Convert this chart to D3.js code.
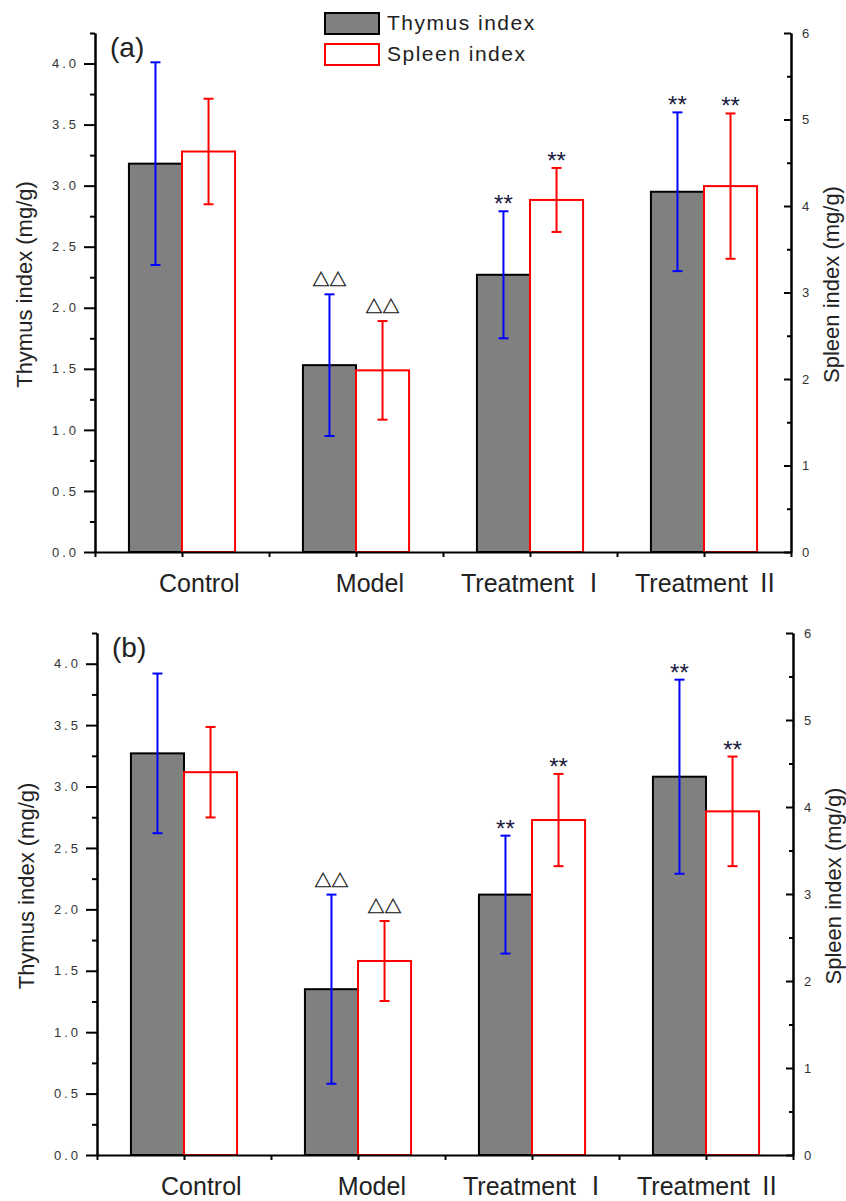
<!DOCTYPE html>
<html>
<head>
<meta charset="utf-8">
<script src="https://cdn.jsdelivr.net/npm/d3@7/dist/d3.min.js"></script>
<style>
  body { margin: 0; background: #fff; }
  svg text { font-family: "Liberation Sans", Arial, "Noto Sans CJK SC", sans-serif; }
</style>
</head>
<body>
<svg id="chart" width="846" height="1201"></svg>
<script>
// labels were typed with leading (non-breaking) spaces in the original figure
const categories = ["\u00a0\u00a0\u00a0\u00a0\u00a0Control", "\u00a0\u00a0\u00a0\u00a0Model",
  "\u00a0Treatment Ⅰ", "\u00a0Treatment Ⅱ"];
const seriesNames = ["Thymus index", "Spleen index"];

// panel (a)
const thymusA = [3.18, 1.53, 2.27, 2.95];
const thymusErrA = [0.83, 0.58, 0.52, 0.65];
const spleenA = [4.63, 2.10, 4.07, 4.23];
const spleenErrA = [0.61, 0.57, 0.37, 0.84];

// panel (b)
const thymusB = [3.27, 1.35, 2.12, 3.08];
const thymusErrB = [0.65, 0.77, 0.48, 0.79];
const spleenB = [4.40, 2.23, 3.85, 3.95];
const spleenErrB = [0.52, 0.46, 0.53, 0.63];

// significance marks over the error bars
const thymusMarks = ["", "△△", "**", "**"];
const spleenMarks = ["", "△△", "**", "**"];

const leftTicks = [0.0, 0.5, 1.0, 1.5, 2.0, 2.5, 3.0, 3.5, 4.0];
const leftMinor = [0.25, 0.75, 1.25, 1.75, 2.25, 2.75, 3.25, 3.75, 4.25];
const rightTicks = [0, 1, 2, 3, 4, 5, 6];
const rightMinor = [0.5, 1.5, 2.5, 3.5, 4.5, 5.5];

const svg = d3.select("#chart");

function styleAxis(sel) {
  sel.select(".domain").attr("stroke", "#000").attr("stroke-width", 2);
  sel.selectAll(".tick line").attr("stroke", "#000").attr("stroke-width", 2);
  sel.selectAll(".tick text")
    .attr("fill", "#333")
    .attr("font-size", 13)
    .attr("letter-spacing", "3px");
}

function drawPanel(p) {
  const g = svg.append("g").attr("class", "panel-" + p.tag);

  const x = d3.scaleBand().domain(categories).range([p.left, p.right])
    .paddingInner(0.39).paddingOuter(0.195);
  const xSub = d3.scaleBand().domain(["thymus", "spleen"]).range([0, x.bandwidth()]);
  const xLin = d3.scaleLinear().domain([0, 8]).range([p.left, p.right]);
  const yL = d3.scaleLinear().domain([0, 4.25]).range([p.bottom, p.top]);
  const yR = d3.scaleLinear().domain([0, 6]).range([p.bottom, p.top]);

  const rows = categories.map((c, i) => ({
    cat: c,
    thymus: p.thymus[i], thymusErr: p.thymusErr[i],
    spleen: p.spleen[i], spleenErr: p.spleenErr[i],
    thymusMark: thymusMarks[i], spleenMark: spleenMarks[i],
  }));

  // bars
  g.selectAll(".thymus-bar")
    .data(rows)
    .join("rect")
    .attr("class", "thymus-bar")
    .attr("x", (d) => x(d.cat) + xSub("thymus"))
    .attr("y", (d) => yL(d.thymus))
    .attr("width", xSub.bandwidth())
    .attr("height", (d) => yL(0) - yL(d.thymus))
    .attr("fill", "#808080")
    .attr("stroke", "#000")
    .attr("stroke-width", 2);

  g.selectAll(".spleen-bar")
    .data(rows)
    .join("rect")
    .attr("class", "spleen-bar")
    .attr("x", (d) => x(d.cat) + xSub("spleen"))
    .attr("y", (d) => yR(d.spleen))
    .attr("width", xSub.bandwidth())
    .attr("height", (d) => yR(0) - yR(d.spleen))
    .attr("fill", "#fff")
    .attr("stroke", "#ff0000")
    .attr("stroke-width", 2);

  // error bars
  const cap = 5;
  const errSpecs = [
    { key: "thymus", y: yL, color: "#0000ff" },
    { key: "spleen", y: yR, color: "#ff0000" },
  ];
  errSpecs.forEach((s) => {
    const cx = (d) => x(d.cat) + xSub(s.key) + xSub.bandwidth() / 2;
    const hi = (d) => s.y(d[s.key] + d[s.key + "Err"]);
    const lo = (d) => s.y(d[s.key] - d[s.key + "Err"]);
    const eg = g.selectAll(".err-" + s.key)
      .data(rows)
      .join("g")
      .attr("class", "err-" + s.key)
      .attr("stroke", s.color)
      .attr("stroke-width", 2);
    eg.append("line").attr("x1", cx).attr("x2", cx).attr("y1", hi).attr("y2", lo);
    eg.append("line").attr("x1", (d) => cx(d) - cap).attr("x2", (d) => cx(d) + cap)
      .attr("y1", hi).attr("y2", hi);
    eg.append("line").attr("x1", (d) => cx(d) - cap).attr("x2", (d) => cx(d) + cap)
      .attr("y1", lo).attr("y2", lo);

    // marks
    const isStar = (d) => d[s.key + "Mark"] === "**";
    g.selectAll(".mark-" + s.key)
      .data(rows.filter((d) => d[s.key + "Mark"] !== ""))
      .join("text")
      .attr("class", "mark-" + s.key)
      .attr("x", cx)
      .attr("y", (d) => (isStar(d) ? hi(d) + 1 : hi(d) - 8))
      .attr("text-anchor", "middle")
      .attr("font-family", "DejaVu Sans")
      .attr("font-size", (d) => (isStar(d) ? 24 : 17))
      .attr("fill", (d) => (isStar(d) ? "#1a1a40" : "#111"))
      .attr("stroke", (d) => (isStar(d) ? "none" : "#111"))
      .attr("stroke-width", 0.4)
      .text((d) => d[s.key + "Mark"]);
  });

  // x axis
  const xAxis = g.append("g")
    .attr("transform", `translate(0,${p.bottom})`)
    .call(d3.axisBottom(xLin).tickValues(d3.range(9)).tickSize(5)
      .tickSizeOuter(0).tickFormat(""));
  styleAxis(xAxis);

  g.selectAll(".cat-label")
    .data(categories)
    .join("text")
    .attr("class", "cat-label")
    .attr("x", (d) => x(d) + x.bandwidth() / 2)
    .attr("y", p.bottom + 40)
    .attr("text-anchor", "middle")
    .attr("font-size", 25)
    .attr("fill", "#222")
    .text((d) => d);

  // left axis
  const yAxisMinor = g.append("g")
    .attr("transform", `translate(${p.left},0)`)
    .call(d3.axisLeft(yL).tickValues(leftMinor).tickSize(5).tickSizeOuter(0).tickFormat(""));
  styleAxis(yAxisMinor);
  const yAxis = g.append("g")
    .attr("transform", `translate(${p.left},0)`)
    .call(d3.axisLeft(yL).tickValues(leftTicks).tickSize(11).tickSizeOuter(0)
      .tickPadding(5).tickFormat(d3.format(".1f")));
  styleAxis(yAxis);

  // right axis
  const rAxisMinor = g.append("g")
    .attr("transform", `translate(${p.right},0)`)
    .call(d3.axisRight(yR).tickValues(rightMinor).tickSize(-4).tickSizeOuter(0).tickFormat(""));
  styleAxis(rAxisMinor);
  const rAxis = g.append("g")
    .attr("transform", `translate(${p.right},0)`)
    .call(d3.axisRight(yR).tickValues(rightTicks).tickSize(-7).tickSizeOuter(0)
      .tickPadding(11).tickFormat(d3.format("d")));
  styleAxis(rAxis);

  const midY = (p.top + p.bottom) / 2 - 8;
  g.append("text")
    .attr("transform", `translate(${p.left - 63},${midY}) rotate(-90)`)
    .attr("text-anchor", "middle")
    .attr("font-size", 22)
    .attr("fill", "#222")
    .text("Thymus index (mg/g)");
  g.append("text")
    .attr("transform", `translate(${p.right + 48},${midY}) rotate(-90)`)
    .attr("text-anchor", "middle")
    .attr("font-size", 22)
    .attr("fill", "#222")
    .text("Spleen index (mg/g)");

  g.append("text")
    .attr("x", p.left + 15)
    .attr("y", p.top + 24)
    .attr("font-size", 28)
    .attr("fill", "#222")
    .text(p.tag);
}

drawPanel({
  tag: "(a)", left: 95, right: 791, top: 33, bottom: 552,
  thymus: thymusA, thymusErr: thymusErrA, spleen: spleenA, spleenErr: spleenErrA,
});
drawPanel({
  tag: "(b)", left: 97, right: 793, top: 633, bottom: 1155,
  thymus: thymusB, thymusErr: thymusErrB, spleen: spleenB, spleenErr: spleenErrB,
});

// legend (top panel only)
const legend = svg.append("g").attr("class", "legend");
const legendItems = legend.selectAll("g")
  .data(seriesNames)
  .join("g")
  .attr("transform", (d, i) => `translate(325,${13 + i * 31})`);
legendItems.append("rect")
  .attr("width", 54)
  .attr("height", 21)
  .attr("fill", (d, i) => (i === 0 ? "#808080" : "#fff"))
  .attr("stroke", (d, i) => (i === 0 ? "#000" : "#ff0000"))
  .attr("stroke-width", 2);
legendItems.append("text")
  .attr("x", 62)
  .attr("y", 17)
  .attr("font-size", 21)
  .attr("letter-spacing", "1.5px")
  .attr("fill", "#222")
  .text((d) => d);
</script>
</body>
</html>
